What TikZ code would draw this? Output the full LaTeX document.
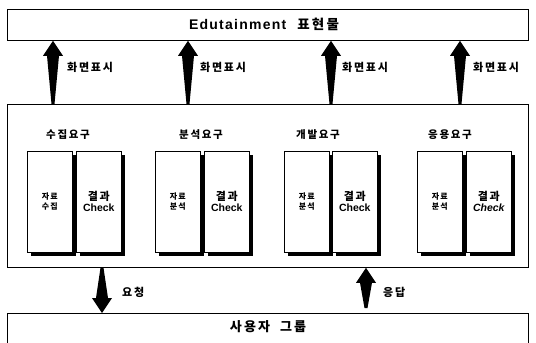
\documentclass[tikz,border=0pt]{standalone}
\usepackage{fontspec}
\setmainfont{Liberation Sans}
\newfontfamily\kr{Noto Sans CJK KR}
\newfontfamily\krs{Noto Sans CJK KR}[LetterSpace=16]
\usetikzlibrary{calc,shadows}
\newcommand\UpArr[2]{\fill let \p1=(#1), \p2=(#2) in (\x1,\y1) -- (\x1+10pt,\y1-15pt) -- (\x1+6pt,\y1-15pt) -- (\x2+1.5pt,\y2) -- (\x2-1.5pt,\y2) -- (\x1-6pt,\y1-15pt) -- (\x1-10pt,\y1-15pt) -- cycle;}
\newcommand\DownArr[2]{\fill let \p1=(#1), \p2=(#2) in (\x2,\y2) -- (\x2+10pt,\y2+15pt) -- (\x2+6pt,\y2+15pt) -- (\x1+1.5pt,\y1) -- (\x1-1.5pt,\y1) -- (\x2-6pt,\y2+15pt) -- (\x2-10pt,\y2+15pt) -- cycle;}
\begin{document}
\begin{tikzpicture}[x=1pt,y=-1pt,
  box/.style={draw, line width=0.8pt, inner sep=0pt, anchor=north west, minimum width=521pt},
  colbox/.style={draw, line width=0.6pt, fill=white, inner sep=0pt, anchor=north west,
     minimum width=45pt, minimum height=101pt,
     drop shadow={shadow xshift=4pt, shadow yshift=-4pt, fill=black, opacity=1}},
  lbl/.style={font=\krs\bfseries\fontsize{11}{13}\selectfont, anchor=west, inner sep=0pt},
  grp/.style={font=\krs\bfseries\fontsize{10.5}{12}\selectfont, inner sep=0pt},
  small/.style={font=\krs\bfseries\fontsize{8}{10}\selectfont, align=center, inner sep=0pt},
  res/.style={align=center, inner sep=0pt}]
\useasboundingbox (0,0) rectangle (536,343);
% boxes
\node[box, minimum height=31pt] (top) at (7,9) {};
\node (toptxt) at (264,24) {{\bfseries\fontsize{14}{16}\selectfont\addfontfeature{LetterSpace=9}Edutainment}\hspace{11pt}{\krs\bfseries\fontsize{13.5}{16}\selectfont 표현물}};
\node[box, minimum height=163pt] (mid) at (7,104) {};
\node[box, minimum height=40pt] (bot) at (7,313) {};
\node[font=\krs\bfseries\fontsize{13}{15}\selectfont] (bottxt) at (268,327) {사용자\hspace{10pt}그룹};
% group labels
\node[grp] (g1) at (68,135) {수집요구};
\node[grp] (g2) at (201,135) {분석요구};
\node[grp] (g3) at (318,135) {개발요구};
\node[grp] (g4) at (450,135) {응용요구};
% columns
\node[colbox] (c11) at (27,151) {};
\node[colbox] (c12) at (76,151) {};
\node[colbox] (c21) at (155,151) {};
\node[colbox] (c22) at (204,151) {};
\node[colbox] (c31) at (284,151) {};
\node[colbox] (c32) at (332,151) {};
\node[colbox] (c41) at (417,151) {};
\node[colbox] (c42) at (466,151) {};
% column texts
\node[small] (t11) at (c11.center) {자료\\수집};
\node[small] (t21) at (c21.center) {자료\\분석};
\node[small] (t31) at (c31.center) {자료\\분석};
\node[small] (t41) at (c41.center) {자료\\분석};
\node[res] (t12) at (c12.center) {{\krs\bfseries\fontsize{11}{13}\selectfont 결과}\\[-1pt]{\bfseries\fontsize{10.5}{12}\selectfont Check}};
\node[res] (t22) at (c22.center) {{\krs\bfseries\fontsize{11}{13}\selectfont 결과}\\[-1pt]{\bfseries\fontsize{10.5}{12}\selectfont Check}};
\node[res] (t32) at (c32.center) {{\krs\bfseries\fontsize{11}{13}\selectfont 결과}\\[-1pt]{\bfseries\fontsize{10.5}{12}\selectfont Check}};
\node[res] (t42) at (c42.center) {{\krs\bfseries\fontsize{11}{13}\selectfont 결과}\\[-1pt]{\bfseries\itshape\fontsize{10.5}{12}\selectfont Check}};
% arrow columns
\coordinate (x1) at (53,0);
\coordinate (x2) at (188,0);
\coordinate (x3) at (331,0);
\coordinate (x4) at (460,0);
\coordinate (x5) at (102,0);
\coordinate (x6) at (366,0);
\UpArr{top.south -| x1}{mid.north -| x1}
\UpArr{top.south -| x2}{mid.north -| x2}
\UpArr{top.south -| x3}{mid.north -| x3}
\UpArr{top.south -| x4}{mid.north -| x4}
\DownArr{mid.south -| x5}{bot.north -| x5}
\fill let \p1=(mid.south -| x6), \p2=($(bot.north -| x6)+(0,-5)$) in (\x1,\y1) -- (\x1+10pt,\y1-15pt) -- (\x1+6pt,\y1-15pt) -- (\x2+1.5pt,\y2) -- (\x2-1.5pt,\y2) -- (\x1-6pt,\y1-15pt) -- (\x1-10pt,\y1-15pt) -- cycle;
% arrow labels
\node[lbl] (l1) at (67,67) {화면표시};
\node[lbl] (l2) at (200,67) {화면표시};
\node[lbl] (l3) at (342,67) {화면표시};
\node[lbl] (l4) at (473,67) {화면표시};
\node[lbl] (l5) at (122,292) {요청};
\node[lbl] (l6) at (383,292) {응답};
\end{tikzpicture}
\end{document}
